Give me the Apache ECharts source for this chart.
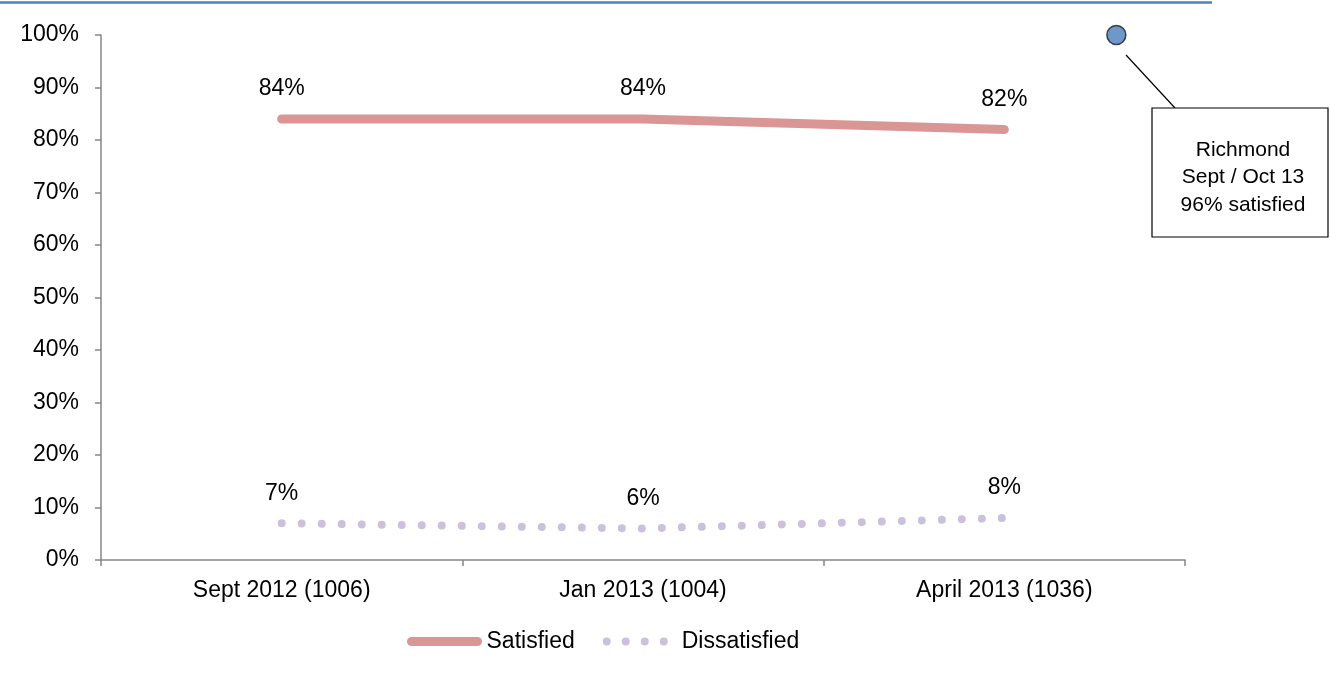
<!DOCTYPE html>
<html>
<head>
<meta charset="utf-8">
<script src="https://cdn.jsdelivr.net/npm/echarts@6/dist/echarts.min.js"></script>
<style>html,body{margin:0;padding:0;background:#fff}#c{width:1330px;height:679px}</style>
</head>
<body>
<div id="c"></div>
<script>
const categories = ['Sept 2012 (1006)', 'Jan 2013 (1004)', 'April 2013 (1036)'];
const satisfied = [84, 84, 82];
const dissatisfied = [7, 6, 8];
const yTicks = [0, 10, 20, 30, 40, 50, 60, 70, 80, 90, 100];
const richmondPoint = [2.81, 100];
const richmondText = ['Richmond', 'Sept / Oct 13', '96% satisfied'];

const chart = echarts.init(document.getElementById('c'), null, {renderer: 'canvas'});
const font = '"Liberation Sans", Arial, sans-serif';
const axisColor = '#868686';
const fs = 23;
const satColor = '#D99694';
const disColor = '#CCC1DA';

chart.setOption({
  animation: false,
  textStyle: {fontFamily: font},
  grid: {left: 101, right: 145, top: 35, bottom: 119, containLabel: false},
  xAxis: [{
    type: 'category',
    data: categories,
    boundaryGap: true,
    axisLine: {lineStyle: {color: axisColor, width: 1.5}},
    axisTick: {show: true, length: 6, lineStyle: {color: axisColor, width: 1.5}},
    axisLabel: {color: '#000', fontSize: fs, fontFamily: font, margin: 19},
    splitLine: {show: false}
  }, {
    type: 'value', min: 0, max: 3, show: false
  }],
  yAxis: {
    type: 'value', min: yTicks[0], max: yTicks[yTicks.length - 1], interval: 10,
    axisLine: {show: true, lineStyle: {color: axisColor, width: 1.5}},
    axisTick: {show: true, length: 6, lineStyle: {color: axisColor, width: 1.5}},
    axisLabel: {color: '#000', fontSize: fs, fontFamily: font, margin: 22, formatter: v => v + '%'},
    splitLine: {show: false}
  },
  legend: {
    top: 625, left: 402,
    itemWidth: 66, itemHeight: 16, itemGap: 28,
    itemStyle: {opacity: 0},
    textStyle: {color: '#000', fontSize: fs, fontFamily: font, padding: [0, 0, 0, 4]},
    data: [
      {name: 'Satisfied', lineStyle: {color: satColor, width: 9, cap: 'round', type: 'solid'}, itemStyle: {opacity: 0}},
      {name: 'Dissatisfied', lineStyle: {color: disColor, width: 8, cap: 'round', type: [0.01, 19]}, itemStyle: {opacity: 0}}
    ]
  },
  series: [{
    name: 'Satisfied', type: 'line', data: satisfied,
    symbol: 'circle', symbolSize: 1, showSymbol: true,
    lineStyle: {color: satColor, width: 9, cap: 'round', join: 'round'},
    itemStyle: {color: satColor},
    label: {show: true, position: 'top', distance: 18, color: '#000', fontSize: fs, fontFamily: font, formatter: p => p.value + '%'}
  }, {
    name: 'Dissatisfied', type: 'line', data: dissatisfied,
    symbol: 'circle', symbolSize: 1, showSymbol: true,
    lineStyle: {color: disColor, width: 8, cap: 'round', type: [0.01, 20]},
    itemStyle: {color: disColor},
    label: {show: true, position: 'top', distance: 18, color: '#000', fontSize: fs, fontFamily: font, formatter: p => p.value + '%'}
  }, {
    name: 'Richmond', type: 'scatter', xAxisIndex: 1,
    data: [richmondPoint],
    symbol: 'circle', symbolSize: 19,
    itemStyle: {color: '#4A7EBB', borderColor: '#1a1a1a', borderWidth: 1.5},
    z: 5
  }],
  graphic: [
    {type: 'line', shape: {x1: 0, y1: 2.5, x2: 1212, y2: 2.5}, style: {stroke: '#4F81BD', lineWidth: 2.5}},
    {type: 'line', shape: {x1: 1126, y1: 55, x2: 1175, y2: 108}, style: {stroke: '#000', lineWidth: 1.2}},
    {type: 'rect', shape: {x: 1152, y: 108, width: 176, height: 129}, style: {fill: '#fff', stroke: '#000', lineWidth: 1.2}},
    {type: 'text', x: 1243, y: 177.5, style: {text: richmondText.join('\n'), fill: '#000', font: '21px ' + font, align: 'center', verticalAlign: 'middle', lineHeight: 27.5}}
  ]
});
</script>
</body>
</html>
